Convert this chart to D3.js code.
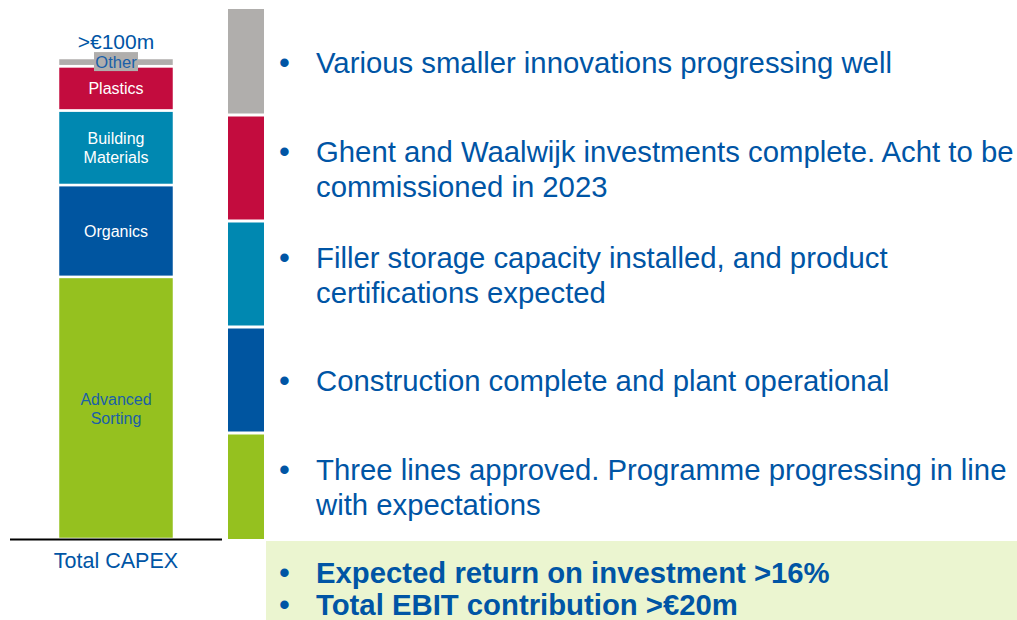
<!DOCTYPE html>
<html>
<head>
<meta charset="utf-8">
<script src="https://cdn.jsdelivr.net/npm/d3@7"></script>
<style>
  body { margin: 0; background: #fff; }
  text { font-family: "Liberation Sans", Arial, sans-serif; }
</style>
</head>
<body>
<div id="chart"></div>
<script>
"use strict";

// stack order, bottom to top
var categories = ["Advanced Sorting", "Organics", "Building Materials", "Plastics", "Other"];
var capex = [54.5, 19.1, 15.5, 9.2, 1.7];
var labelLines = [["Advanced", "Sorting"], ["Organics"], ["Building", "Materials"], ["Plastics"], ["Other"]];
var colors = ["#95c11f", "#0055a0", "#0088b1", "#c30c3e", "#b0aeac"];
var labelColors = ["#1a5fa8", "#fff", "#fff", "#fff", "#1a5fa8"];
var totalLabel = ">€100m";
var axisLabel = "Total CAPEX";

// bullets, top to bottom (Other .. Advanced Sorting)
var bullets = [
  ["Various smaller innovations progressing well"],
  ["Ghent and Waalwijk investments complete. Acht to be", "commissioned in 2023"],
  ["Filler storage capacity installed, and product", "certifications expected"],
  ["Construction complete and plant operational"],
  ["Three lines approved. Programme progressing in line", "with expectations"]
];
var summary = ["Expected return on investment >16%", "Total EBIT contribution >€20m"];

var width = 1017, height = 620;
var svg = d3.select("#chart").append("svg")
    .attr("width", width)
    .attr("height", height);

var blue = "#0055a5";

// ---- stacked CAPEX bar ----
var y = d3.scaleLinear().domain([0, d3.sum(capex)]).range([539, 58]);
var x = d3.scaleBand().domain([axisLabel]).range([10, 222]).paddingInner(0).paddingOuter(0.4138);

var row = {};
categories.forEach(function (c, i) { row[c] = capex[i]; });
var series = d3.stack().keys(categories)([row]);

var g = svg.append("g");
g.selectAll(".seg")
    .data(series)
    .enter().append("rect")
    .attr("class", "seg")
    .attr("x", x(axisLabel))
    .attr("width", x.bandwidth())
    .attr("y", function (d) { return y(d[0][1]); })
    .attr("height", function (d) { return y(d[0][0]) - y(d[0][1]); })
    .attr("fill", function (d, i) { return colors[i]; })
    .attr("stroke", "#fff")
    .attr("stroke-width", 2.5);

var cx = x(axisLabel) + x.bandwidth() / 2;

// labels inside segments
series.forEach(function (d, i) {
  var mid = (y(d[0][0]) + y(d[0][1])) / 2;
  var lines = labelLines[i];
  var lh = 19;
  if (categories[i] === "Other") {
    g.append("rect")
      .attr("x", cx - 22).attr("y", mid - 10)
      .attr("width", 44).attr("height", 19)
      .attr("fill", "#b0aeac");
  }
  if (categories[i] === "Advanced Sorting") mid = 408;
  var t = g.append("text")
      .attr("text-anchor", "middle")
      .attr("font-size", categories[i] === "Other" ? 16.5 : 16)
      .attr("fill", labelColors[i]);
  lines.forEach(function (l, k) {
    t.append("tspan")
      .attr("x", cx)
      .attr("y", mid + 6 + (k - (lines.length - 1) / 2) * lh)
      .text(l);
  });
});

// baseline
g.append("line")
    .attr("x1", 10).attr("x2", 222)
    .attr("y1", y(0) + 0.5).attr("y2", y(0) + 0.5)
    .attr("stroke", "#000").attr("stroke-width", 2);

g.append("text")
    .attr("x", cx).attr("y", 49)
    .attr("text-anchor", "middle")
    .attr("font-size", 21)
    .attr("fill", blue)
    .text(totalLabel);

g.append("text")
    .attr("x", cx).attr("y", 568)
    .attr("text-anchor", "middle")
    .attr("font-size", 21.5)
    .attr("fill", blue)
    .text(axisLabel);

// ---- right-hand colour key column ----
var order = categories.slice().reverse();
var band = d3.scaleBand().domain(order).range([9, 539]).paddingInner(0);

svg.selectAll(".key")
    .data(order)
    .enter().append("rect")
    .attr("class", "key")
    .attr("x", 228)
    .attr("width", 36)
    .attr("y", function (d) { return band(d) + (d === order[0] ? 0 : 1.5); })
    .attr("height", function (d, i) {
      return band.bandwidth() - (i === 0 ? 1.5 : 3) + (i === order.length - 1 ? 1.5 : 0);
    })
    .attr("fill", function (d) { return colors[categories.indexOf(d)]; });

// bullet texts
var lineH = 35;
order.forEach(function (c, i) {
  var lines = bullets[i];
  var mid = band(c) + band.bandwidth() / 2;
  lines.forEach(function (l, k) {
    var yy = mid + 11 + (k - (lines.length - 1) / 2) * lineH;
    if (k === 0) {
      svg.append("text")
        .attr("x", 279).attr("y", yy)
        .attr("font-size", 31)
        .attr("fill", blue)
        .text("•");
    }
    svg.append("text")
      .attr("x", 316).attr("y", yy)
      .attr("font-size", 29.3)
      .attr("fill", blue)
      .text(l);
  });
});

// summary box
svg.append("rect")
    .attr("x", 266).attr("y", 541)
    .attr("width", width - 266).attr("height", height - 541)
    .attr("fill", "#ebf5d0");

summary.forEach(function (s, k) {
  var yy = 583 + k * 32;
  svg.append("text")
    .attr("x", 279).attr("y", yy)
    .attr("font-size", 31)
    .attr("fill", blue)
    .text("•");
  svg.append("text")
    .attr("x", 316).attr("y", yy)
    .attr("font-size", 29.3)
    .attr("font-weight", "bold")
    .attr("fill", blue)
    .text(s);
});
</script>
</body>
</html>
